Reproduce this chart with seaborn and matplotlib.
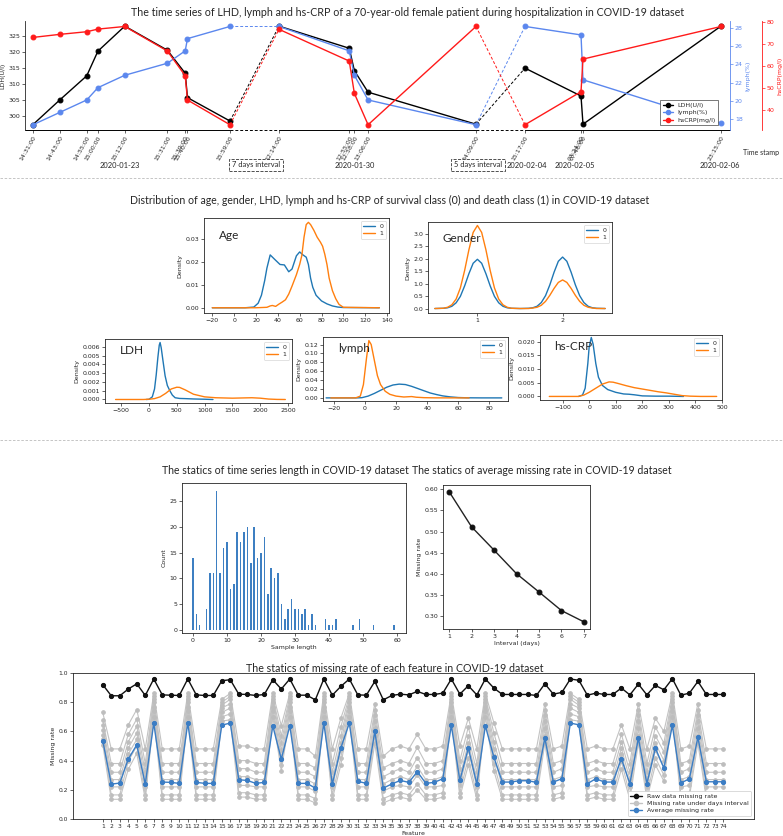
import numpy as np
import pandas as pd
import matplotlib
matplotlib.use('Agg')
import matplotlib.pyplot as plt
from matplotlib.lines import Line2D
import seaborn as sns

sns.set_theme(style='ticks')
plt.rcParams['font.family'] = ['DejaVu Sans']
plt.rcParams['axes.linewidth'] = 0.6
plt.rcParams['xtick.major.width'] = 0.5
plt.rcParams['ytick.major.width'] = 0.5
plt.rcParams['xtick.major.size'] = 2
plt.rcParams['ytick.major.size'] = 2
plt.rcParams['xtick.major.pad'] = 1.5
plt.rcParams['ytick.major.pad'] = 1.5
TF = 'Lato'   # title font

# %% data: time series of one patient
stamp = ['2020-01-23 14:31', '2020-01-23 14:43', '2020-01-23 14:55', '2020-01-23 15:00',
         '2020-01-23 15:12', '2020-01-23 15:31', '2020-01-23 15:39', '2020-01-23 15:40',
         '2020-01-23 15:59', '2020-01-30 12:14', '2020-01-30 12:55', '2020-01-30 12:58',
         '2020-01-30 13:06', '2020-01-30 14:09', '2020-02-04 15:17', '2020-02-05 07:24',
         '2020-02-05 07:46', '2020-02-06 23:15']
ldh = [297.4, 305.1, 312.6, 320.3, 328.1, 320.6, 313.4, 305.8, 298.5,
       328.1, 321.2, 314.2, 307.5, 297.5, 315.0, 306.3, 297.5, 328.1]
lymph = [17.33, 18.7, 20.07, 21.43, 22.8, 24.13, 25.5, 26.85, 28.2,
         28.2, 25.5, 22.8, 20.07, 17.33, 28.2, 27.26, 22.3, 17.5]
hscrp = [73.0, 74.4, 75.6, 76.8, 78.0, 66.8, 55.5, 44.4, 33.1,
         76.7, 62.2, 47.4, 33.1, 78.0, 33.1, 48.2, 63.1, 78.0]

# %% data: densities
age_x0 = [-20, 10, 18, 22, 25, 28, 30, 33, 37, 42, 46, 50, 53, 57, 60, 63, 66, 68, 70, 72, 75, 80, 85, 90, 95, 100, 133]
age_d0 = [0, 0, 0.0003, 0.002, 0.0055, 0.012, 0.0174, 0.0232, 0.0213, 0.019, 0.0188, 0.0158, 0.017, 0.0228, 0.0245,
          0.0232, 0.0222, 0.019, 0.013, 0.009, 0.0055, 0.003, 0.0017, 0.0008, 0.0003, 0.0001, 0]
age_x1 = [-20, 20, 30, 33, 35, 38, 41, 44, 47, 50, 53, 57, 60, 62, 64, 66, 68, 70, 73, 76, 79, 81, 83, 85, 87,
          90, 93, 96, 100, 133]
age_d1 = [0, 0, 0.0002, 0.0008, 0.001, 0.0006, 0.0016, 0.0025, 0.0035, 0.006, 0.0095, 0.0145, 0.019, 0.023, 0.031,
          0.0365, 0.0375, 0.0365, 0.034, 0.031, 0.0288, 0.027, 0.0235, 0.019, 0.013, 0.0075, 0.004, 0.0015, 0.0002, 0]

gender_x = [0.5, 0.6, 0.65, 0.7, 0.75, 0.8, 0.85, 0.9, 0.95, 1.0, 1.05, 1.1, 1.15, 1.2, 1.25, 1.3, 1.35, 1.4, 1.5,
            1.6, 1.65, 1.7, 1.75, 1.8, 1.85, 1.9, 1.95, 2.0, 2.05, 2.1, 2.15, 2.2, 2.25, 2.3, 2.35, 2.4, 2.5]
gender_d0 = [0, 0.01, 0.03, 0.09, 0.23, 0.49, 0.91, 1.40, 1.82, 1.98, 1.82, 1.40, 0.91, 0.49, 0.23, 0.09, 0.03, 0.01, 0,
             0.01, 0.03, 0.09, 0.24, 0.52, 0.95, 1.46, 1.90, 2.07, 1.90, 1.46, 0.95, 0.52, 0.24, 0.09, 0.03, 0.01, 0]
gender_d1 = [0, 0.01, 0.05, 0.15, 0.38, 0.83, 1.53, 2.36, 3.06, 3.34, 3.06, 2.36, 1.53, 0.83, 0.38, 0.15, 0.05, 0.01, 0,
             0, 0.02, 0.05, 0.13, 0.29, 0.53, 0.81, 1.05, 1.15, 1.05, 0.81, 0.53, 0.29, 0.13, 0.05, 0.02, 0, 0]

ldh_x0 = [-50, 0, 60, 100, 130, 160, 185, 200, 220, 250, 290, 330, 375, 420, 470, 550, 650, 800, 1000, 1150]
ldh_d0 = [0, 0.00002, 0.0003, 0.0012, 0.0028, 0.0048, 0.0062, 0.0065, 0.0059, 0.0045, 0.0027, 0.0016, 0.001,
          0.0005, 0.0002, 0.00012, 0.0001, 0.00006, 0.00003, 0]
ldh_x1 = [-600, -100, 0, 100, 200, 300, 400, 500, 550, 650, 800, 1000, 1200, 1500, 1700, 1850, 2000, 2150, 2300, 2450]
ldh_d1 = [0, 0, 0.00003, 0.0001, 0.0003, 0.0007, 0.0012, 0.0014, 0.00138, 0.0011, 0.0006, 0.0003, 0.0002,
          0.00015, 0.00018, 0.0002, 0.00015, 0.00005, 0.00001, 0]

lym_x0 = [-25, -5, -2, 2, 6, 10, 14, 18, 22, 26, 30, 34, 38, 42, 46, 50, 55, 60, 66, 75, 88]
lym_d0 = [0, 0, 0.0005, 0.004, 0.010, 0.017, 0.024, 0.029, 0.031, 0.030, 0.026, 0.021, 0.016, 0.011, 0.0075,
          0.0045, 0.0022, 0.0008, 0.0002, 0, 0]
lym_x1 = [-22, -6, -3, -1, 1, 2.5, 4, 6, 8, 10, 13, 16, 20, 25, 30, 33, 38, 45, 55, 67]
lym_d1 = [0, 0, 0.004, 0.03, 0.09, 0.129, 0.12, 0.085, 0.05, 0.03, 0.015, 0.008, 0.004, 0.002, 0.003, 0.0015,
          0.0005, 0.0001, 0, 0]

crp_x0 = [-40, -25, -15, -5, 0, 8, 15, 25, 35, 50, 70, 100, 130, 150, 170, 200, 250, 300, 355]
crp_d0 = [0, 0.0005, 0.003, 0.012, 0.018, 0.0215, 0.019, 0.012, 0.007, 0.004, 0.0025, 0.0015, 0.0009, 0.0008,
          0.0006, 0.0002, 0.0001, 0.0001, 0]
crp_x1 = [-150, -40, -20, 0, 25, 50, 75, 90, 110, 140, 170, 200, 230, 260, 290, 320, 350, 380, 420, 480]
crp_d1 = [0, 0, 0.0005, 0.0015, 0.003, 0.0045, 0.0053, 0.0052, 0.0047, 0.0039, 0.0032, 0.0027, 0.0022, 0.0017,
          0.0013, 0.0008, 0.0003, 0.0001, 0, 0]

# %% data: time series length histogram
sample_length = [0, 1, 2, 4, 5, 6, 7, 8, 9, 10, 11, 12, 13, 14, 15, 16, 17, 18, 19, 20, 21, 22, 23, 24, 25, 26,
                 27, 28, 29, 30, 31, 32, 33, 34, 35, 36, 39, 40, 41, 42, 47, 49, 53, 59]
sample_count = [14, 3, 1, 4, 11, 11, 27, 11, 16, 17, 8, 9, 19, 17, 19, 20, 13, 20, 14, 15, 18, 7, 12, 10, 11, 5,
                2, 4, 6, 4, 4, 3, 4, 1, 3, 1, 2, 1, 1, 2, 1, 2, 1, 1]

# %% data: average missing rate vs interval
interval_days = [1, 2, 3, 4, 5, 6, 7]
avg_missing = [0.5945, 0.5113, 0.4563, 0.4006, 0.3574, 0.3135, 0.2868]

# %% data: missing rate of each feature
feature = list(range(1, 75))
raw_rate = [.92, .844, .844, .89, .926, .846, .959, .85, .848, .846,
            .959, .85, .846, .846, .947, .954, .855, .853, .846, .853,
            .954, .89, .959, .848, .848, .816, .959, .848, .908, .959,
            .85, .848, .942, .816, .846, .855, .85, .874, .853, .853,
            .862, .959, .855, .913, .85, .959, .897, .853, .853, .853,
            .853, .846, .926, .855, .867, .959, .95, .848, .862, .853,
            .853, .897, .85, .924, .85, .915, .885, .961, .848, .862,
            .942, .853, .853, .853]
mean_rate = [.536, .239, .246, .41, .508, .239, .657, .253, .251, .244,
             .657, .251, .244, .244, .643, .657, .269, .264, .244, .251,
             .638, .41, .638, .244, .244, .212, .657, .239, .486, .657,
             .258, .244, .60, .212, .240, .264, .251, .324, .244, .251,
             .276, .641, .264, .486, .239, .638, .424, .253, .253, .262,
             .262, .251, .554, .253, .276, .657, .645, .242, .276, .253,
             .253, .413, .242, .554, .242, .486, .349, .641, .246, .276,
             .559, .255, .255, .255]
interval_1 = [.73, .48, .48, .645, .75, .48, .86, .48, .48, .48,
              .86, .48, .48, .48, .82, .86, .50, .50, .48, .48,
              .86, .64, .86, .48, .48, .43, .86, .48, .69, .86,
              .48, .48, .79, .43, .48, .50, .48, .58, .48, .48,
              .50, .86, .50, .69, .48, .86, .66, .48, .48, .48,
              .48, .48, .79, .48, .50, .86, .82, .48, .50, .48,
              .48, .645, .48, .79, .48, .69, .60, .86, .48, .50,
              .79, .48, .48, .48]
interval_2 = [.68, .38, .38, .58, .685, .38, .84, .38, .38, .38,
              .84, .38, .38, .38, .80, .84, .40, .40, .38, .38,
              .84, .57, .84, .38, .38, .35, .84, .38, .63, .84,
              .38, .38, .75, .35, .38, .40, .38, .49, .38, .38,
              .40, .84, .40, .63, .38, .84, .59, .38, .38, .38,
              .38, .38, .75, .38, .40, .84, .80, .38, .40, .38,
              .38, .58, .38, .75, .38, .63, .52, .84, .38, .40,
              .75, .38, .38, .38]
interval_3 = [.645, .32, .32, .53, .635, .32, .82, .32, .32, .32,
              .82, .32, .32, .32, .78, .82, .345, .345, .32, .32,
              .82, .52, .82, .32, .32, .29, .82, .32, .57, .82,
              .32, .32, .71, .29, .32, .345, .32, .42, .32, .32,
              .345, .82, .345, .57, .32, .82, .53, .32, .32, .32,
              .32, .32, .71, .32, .345, .82, .78, .32, .345, .32,
              .32, .53, .32, .71, .32, .57, .46, .82, .32, .345,
              .71, .32, .32, .32]
interval_4 = [.61, .27, .27, .485, .59, .27, .80, .27, .27, .27,
              .80, .27, .27, .27, .76, .79, .29, .29, .27, .27,
              .80, .47, .80, .27, .27, .24, .80, .27, .52, .80,
              .27, .27, .67, .24, .27, .29, .27, .36, .27, .27,
              .29, .80, .29, .52, .27, .80, .48, .27, .27, .27,
              .27, .27, .67, .27, .29, .79, .76, .27, .29, .27,
              .27, .485, .27, .67, .27, .52, .40, .80, .27, .29,
              .67, .27, .27, .27]
interval_5 = [.575, .22, .22, .445, .545, .22, .77, .22, .22, .22,
              .77, .22, .22, .22, .73, .76, .23, .23, .22, .22,
              .77, .42, .77, .22, .22, .19, .77, .22, .47, .77,
              .22, .22, .62, .19, .22, .23, .22, .30, .22, .22,
              .23, .77, .23, .47, .22, .77, .43, .22, .22, .22,
              .22, .22, .62, .22, .23, .76, .73, .22, .23, .22,
              .22, .445, .22, .62, .22, .47, .35, .77, .22, .23,
              .62, .22, .22, .22]
interval_6 = [.545, .165, .165, .395, .50, .165, .74, .165, .165, .165,
              .74, .165, .165, .165, .70, .72, .18, .18, .165, .165,
              .74, .37, .74, .165, .165, .14, .74, .165, .42, .74,
              .165, .165, .57, .14, .165, .18, .165, .24, .165, .165,
              .18, .74, .18, .42, .165, .74, .38, .165, .165, .165,
              .165, .165, .57, .165, .18, .72, .70, .165, .18, .165,
              .165, .395, .165, .57, .165, .42, .30, .74, .165, .18,
              .57, .165, .165, .165]
interval_7 = [.51, .135, .135, .34, .45, .135, .70, .135, .135, .135,
              .70, .135, .135, .135, .67, .68, .15, .15, .135, .135,
              .70, .33, .70, .135, .135, .11, .70, .135, .37, .70,
              .135, .135, .52, .11, .135, .15, .135, .20, .135, .135,
              .15, .70, .15, .37, .135, .70, .33, .135, .135, .135,
              .135, .135, .52, .135, .15, .68, .67, .135, .15, .135,
              .135, .34, .135, .52, .135, .37, .26, .70, .135, .15,
              .52, .135, .135, .135]

# %% figure helpers (pixel layout)
W, H = 783, 836
fig = plt.figure(figsize=(W / 100, H / 100), dpi=100)


def add_box(l, t, r, b):
    return fig.add_axes([l / W, 1 - b / H, (r - l) / W, (b - t) / H])


def ftxt(x, y, s, **kw):
    return fig.text(x / W, 1 - y / H, s, **kw)


def small_ticks(a, size=4.5):
    a.tick_params(labelsize=size)


# %% panel 1: patient time series on a broken time axis
tmin = ((pd.to_datetime(stamp) - pd.Timestamp('2020-01-23')).total_seconds() / 60).to_numpy()
brk_t = [867, 871, 959, 10814, 10929, 18197, 19164, 19186, 21555, 21709]
brk_u = [0, 8, 205, 254, 451, 500, 556, 558, 696, 705]


def fwd(v):
    return np.interp(v, brk_t, brk_u)


def inv(v):
    return np.interp(v, brk_u, brk_t)


ax = add_box(25, 21, 730, 130)
ax.set_xscale('function', functions=(fwd, inv))
ax_l = ax.twinx()
ax_c = ax.twinx()
ax_c.spines['right'].set_position(('axes', 1.045))

c_ldh, c_lym, c_crp = 'black', '#5b87ee', '#ff1a1a'
solid = [slice(0, 9), slice(9, 14), slice(14, 18)]
gaps = [slice(8, 10), slice(13, 15)]


def draw_series(a, vals, col):
    vals = np.asarray(vals)
    for sl in solid:
        sns.lineplot(x=tmin[sl], y=vals[sl], ax=a, color=col, lw=1.0, marker='o', ms=3.5,
                     mec=col, sort=False, legend=False)
    for sl in gaps:
        a.plot(tmin[sl], vals[sl], color=col, lw=0.7, ls=(0, (3, 2)))


draw_series(ax, ldh, c_ldh)
draw_series(ax_l, lymph, c_lym)
draw_series(ax_c, hscrp, c_crp)

ax.set_xlim(brk_t[0], brk_t[-1])
ax.set_ylim(295.7, 329.7)
ax_l.set_ylim(16.75, 28.8)
ax_c.set_ylim(30.7, 80.5)
ax.set_yticks([300, 305, 310, 315, 320, 325])
ax_l.set_yticks([18, 20, 22, 24, 26, 28])
ax_c.set_yticks([40, 50, 60, 70, 80])
ax.set_xticks(tmin)
ax.set_xticklabels([s[-5:] + ':00' for s in stamp], rotation=60, ha='right',
                   rotation_mode='anchor', fontsize=4.5)
for a in (ax, ax_l, ax_c):
    a.spines['top'].set_visible(False)
    a.spines['bottom'].set_visible(False)
    a.set_xlabel('')
for a in (ax_l, ax_c):
    a.spines['left'].set_visible(False)
ax.spines['right'].set_visible(False)
ax_l.spines['right'].set_color(c_lym)
ax_c.spines['right'].set_color(c_crp)
ax.tick_params(axis='y', labelsize=4.5)
ax_l.tick_params(axis='y', labelsize=4.5, colors=c_lym)
ax_c.tick_params(axis='y', labelsize=4.5, colors=c_crp)
ax.set_ylabel('LDH(U/l)', fontsize=4.5, labelpad=2)
ax_l.set_ylabel('lymph(%)', fontsize=4.5, color=c_lym, labelpad=2)
ax_c.set_ylabel('hsCRP(mg/l)', fontsize=4.5, color=c_crp, labelpad=2)

# time axis drawn solid inside a day, dashed across the skipped days
xt = ax.get_xaxis_transform()
for seg, style in [((brk_t[0], tmin[8]), '-'), ((tmin[8], tmin[9]), (0, (3, 2))),
                   ((tmin[9], tmin[13]), '-'), ((tmin[13], tmin[14]), (0, (3, 2))),
                   ((tmin[14], brk_t[-1]), '-')]:
    ax.plot(seg, [0, 0], transform=xt, color='black', lw=0.7, ls=style, clip_on=False)

handles = [Line2D([], [], color=c, marker='o', ms=3, lw=1) for c in (c_ldh, c_lym, c_crp)]
leg = ax_c.legend(handles, ['LDH(U/l)', 'lymph(%)', 'hsCRP(mg/l)'], loc='lower right',
                  bbox_to_anchor=(0.988, 0.015), fontsize=4.5, fancybox=False, framealpha=1,
                  edgecolor='#444444', handlelength=1.6, borderpad=0.4, labelspacing=0.3)
leg.get_frame().set_linewidth(0.5)

ftxt(408, 12, 'The time series of LHD, lymph and hs-CRP of a 70-year-old female patient during '
     'hospitalization in COVID-19 dataset', ha='center', va='center', fontsize=7.7, family=TF)
box_kw = dict(boxstyle='square,pad=0.35', fc='white', ec='#333333', ls='--', lw=0.6)
for x, s in [(120, '2020-01-23'), (355, '2020-01-30'), (527, '2020-02-04'), (575, '2020-02-05'),
             (720, '2020-02-06')]:
    ftxt(x, 165, s, ha='center', va='center', fontsize=5.4, family=TF)
ftxt(256, 165, '7 days interval', ha='center', va='center', fontsize=5.4, family=TF, bbox=box_kw)
ftxt(478, 165, '5 days interval', ha='center', va='center', fontsize=5.4, family=TF, bbox=box_kw)
ftxt(761, 153, 'Time stamp', ha='center', va='center', fontsize=5, family=TF)

# %% panel 2: kde of survival (0) vs death (1)
ftxt(390, 200, 'Distribution of age, gender, LHD, lymph and hs-CRP of survival class (0) and death '
     'class (1) in COVID-19 dataset', ha='center', va='center', fontsize=7.6, family=TF)

kde_specs = [
    ((204, 218, 389, 313), age_x0, age_d0, age_x1, age_d1, 'Age',
     (-27.6, 141.8), (-0.0023, 0.0394), np.arange(-20, 141, 20), [0, 0.01, 0.02, 0.03], '{:.2f}'),
    ((428, 222, 612, 313), gender_x, gender_d0, gender_x, gender_d1, 'Gender',
     (0.42, 2.58), (-0.18, 3.48), [1, 2], np.arange(0, 3.01, 0.5), '{:.1f}'),
    ((105, 339, 292, 403), ldh_x0, ldh_d0, ldh_x1, ldh_d1, 'LDH',
     (-790, 2570), (-0.0004, 0.0069), np.arange(-500, 2501, 500), np.arange(0, 0.0061, 0.001), '{:.3f}'),
    ((323, 337, 508, 401), lym_x0, lym_d0, lym_x1, lym_d1, 'lymph',
     (-27, 92), (-0.007, 0.137), np.arange(-20, 81, 20), np.arange(0, 0.121, 0.02), '{:.2f}'),
    ((540, 335, 722, 400), crp_x0, crp_d0, crp_x1, crp_d1, 'hs-CRP',
     (-185, 495), (-0.0013, 0.0224), np.arange(-100, 501, 100), np.arange(0, 0.0201, 0.005), '{:.3f}'),
]
for rect, x0, d0, x1, d1, name, xl, yl, xt_, yt_, fmt in kde_specs:
    a = add_box(*rect)
    sns.lineplot(x=x0, y=d0, ax=a, color='#1f77b4', lw=1, sort=False, label='0')
    sns.lineplot(x=x1, y=d1, ax=a, color='#ff7f0e', lw=1, sort=False, label='1')
    a.set_xlim(*xl)
    a.set_ylim(*yl)
    a.set_xticks(xt_)
    a.set_yticks(yt_)
    a.set_yticklabels([fmt.format(v) for v in yt_])
    small_ticks(a)
    a.set_ylabel('Density', fontsize=4.5, labelpad=2)
    a.set_xlabel('')
    lg = a.legend(loc='upper right', fontsize=4.5, handlelength=1.8, borderpad=0.4,
                  labelspacing=0.3, fancybox=True, edgecolor='#cccccc')
    lg.get_frame().set_linewidth(0.5)
    a.text(0.08, 0.82, name, transform=a.transAxes, fontsize=8.5, family=TF, va='center')

# %% panel 3: histogram and average missing rate
ftxt(285, 470, 'The statics of time series length in COVID-19 dataset', ha='center', va='center',
     fontsize=7.6, family=TF)
ftxt(542, 470, 'The statics of average missing rate in COVID-19 dataset', ha='center', va='center',
     fontsize=7.6, family=TF)

axh = add_box(182, 483, 406, 633)
sns.histplot(x=sample_length, weights=sample_count, discrete=True, shrink=0.45, color='#3d7fc2',
             alpha=1, linewidth=0, ax=axh)
axh.set_xlim(-3.2, 62.6)
axh.set_ylim(-0.65, 28.6)
axh.set_xticks(range(0, 61, 10))
axh.set_yticks(range(0, 26, 5))
small_ticks(axh)
axh.set_xlabel('Sample length', fontsize=4.5, labelpad=1.5)
axh.set_ylabel('Count', fontsize=4.5, labelpad=2)

axm = add_box(443, 485, 590, 629)
sns.lineplot(x=interval_days, y=avg_missing, ax=axm, color='#222222', lw=1, marker='o', ms=3.5,
             mec='#111111', mfc='#111111')
axm.set_xlim(0.73, 7.27)
axm.set_ylim(0.27, 0.61)
axm.set_xticks(interval_days)
axm.set_yticks([0.30, 0.35, 0.40, 0.45, 0.50, 0.55, 0.60])
axm.set_yticklabels(['0.30', '0.35', '0.40', '0.45', '0.50', '0.55', '0.60'])
small_ticks(axm)
axm.set_xlabel('Interval (days)', fontsize=4.5, labelpad=1.5)
axm.set_ylabel('Missing rate', fontsize=4.5, labelpad=2)

# %% panel 4: missing rate of each feature
ftxt(395, 668, 'The statics of missing rate of each feature in COVID-19 dataset', ha='center',
     va='center', fontsize=7.7, family=TF)
axf = add_box(73, 673, 754, 819)
for series in (interval_1, interval_2, interval_3, interval_4, interval_5, interval_6, interval_7):
    sns.lineplot(x=feature, y=series, ax=axf, color='#c3c3c3', lw=0.8, marker='o', ms=2.6,
                 mec='#bdbdbd', mfc='#bdbdbd', legend=False)
sns.lineplot(x=feature, y=raw_rate, ax=axf, color='#111111', lw=1, marker='o', ms=3,
             mec='#111111', mfc='#111111', legend=False)
sns.lineplot(x=feature, y=mean_rate, ax=axf, color='#3b7dc4', lw=1, marker='o', ms=3,
             mec='#3b7dc4', mfc='#3b7dc4', legend=False)
axf.set_xlim(-2.5, 77.6)
axf.set_ylim(0, 1.0)
axf.set_xticks(feature)
axf.set_yticks([0, 0.2, 0.4, 0.6, 0.8, 1.0])
axf.set_yticklabels(['0.0', '0.2', '0.4', '0.6', '0.8', '1.0'])
small_ticks(axf, 4.3)
axf.set_xlabel('Feature', fontsize=4.5, labelpad=1.5)
axf.set_ylabel('Missing rate', fontsize=4.5, labelpad=2)
fh = [Line2D([], [], color='#111111', marker='o', ms=3, lw=1),
      Line2D([], [], color='#c3c3c3', marker='o', ms=3, lw=1),
      Line2D([], [], color='#3b7dc4', marker='o', ms=3, lw=1)]
lg = axf.legend(fh, ['Raw data missing rate', 'Missing rate under days interval', 'Average missing rate'],
                loc='lower right', bbox_to_anchor=(1.0, 0.0), fontsize=4.5, handlelength=1.8,
                borderpad=0.4, labelspacing=0.3, edgecolor='#cccccc', framealpha=1)
lg.get_frame().set_linewidth(0.5)

# %% dashed separators between the blocks
for y in (178, 440):
    fig.add_artist(Line2D([0, 1], [1 - y / H, 1 - y / H], transform=fig.transFigure,
                          color='#bbbbbb', lw=0.6, ls=(0, (3, 2))))

fig.savefig('out.png', dpi=100)
